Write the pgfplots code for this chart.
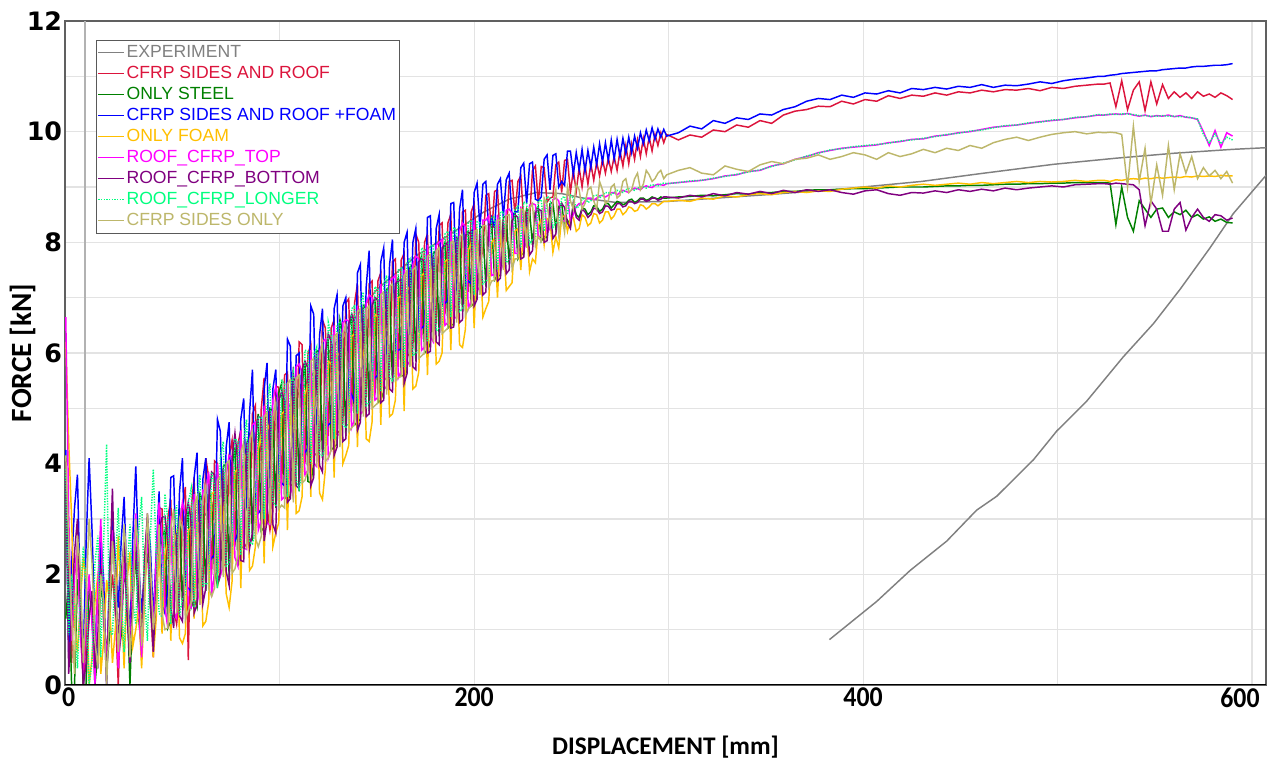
\documentclass[border=0pt]{standalone}
\usepackage{fontspec}
\setmainfont{Liberation Sans}
\newfontfamily\carlito{Carlito}
\newfontfamily\dejavu{DejaVu Sans}
\usepackage{xcolor}
\usepackage{graphicx}
\usepackage{pgfplots}
\usepackage{pgfplotstable}
\pgfplotsset{compat=1.18}

\definecolor{cexp}{RGB}{128,128,128}
\definecolor{cred}{RGB}{220,20,60}
\definecolor{cgrn}{RGB}{0,128,0}
\definecolor{cblu}{RGB}{0,0,255}
\definecolor{cyel}{RGB}{255,191,0}
\definecolor{cmag}{RGB}{255,0,255}
\definecolor{cpur}{RGB}{128,0,128}
\definecolor{clon}{RGB}{0,255,127}
\definecolor{ckha}{RGB}{189,183,107}

% simulated force-displacement curves
\pgfplotstableread{
x red grn blu yel mag pur lon kha
-10 4.00 1.20 4.25 6.20 6.65 4.10 3.90 4.15
-8.5 1.60 1.90 0.60 4.40 3.10 0.20 0.90 2.60
-7 0.40 0.00 2.20 3.00 0.80 1.30 2.00 1.20
-5.5 2.00 0.00 3.20 1.10 2.00 2.40 1.30 0.20
-4 2.40 1.90 3.80 0.60 2.60 3.00 0.30 2.70
-2.5 1.10 1.90 1.50 1.50 0.90 1.50 1.60 2.10
-1 0.00 0.00 0.50 2.30 0.20 0.00 2.50 0.40
0.5 0.90 0.00 2.60 1.90 1.20 0.40 1.80 1.60
2 1.80 1.90 4.10 0.00 2.00 1.20 0.00 3.00
3.5 1.20 1.30 2.80 0.50 1.10 1.70 0.40 2.20
5 0.30 0.00 1.00 1.50 0.00 0.30 2.20 0.80
6.5 1.90 0.60 0.30 2.00 1.80 0.90 2.70 0.30
8 2.60 1.80 2.70 0.20 3.00 2.10 0.50 2.00
9.5 1.10 1.40 1.90 0.80 1.30 1.50 2.60 1.50
11 0.60 0.30 0.00 1.90 0.40 0.00 4.35 0.00
12.5 1.40 0.90 2.10 1.50 1.60 1.90 1.00 1.30
14 2.00 2.80 3.00 0.40 2.80 3.55 0.90 2.60
15.5 1.30 2.10 2.30 1.00 1.90 1.40 2.20 1.90
17 0.00 0.50 1.40 2.70 0.30 0.80 3.20 0.60
18.5 1.80 0.90 2.60 1.60 1.20 2.00 1.60 1.40
20 2.50 2.10 3.40 0.30 2.20 2.60 0.60 2.90
21.5 1.20 1.60 1.80 1.90 1.50 1.30 2.00 2.20
23 0.70 0.00 0.90 2.40 0.60 0.40 2.90 0.50
24.5 2.10 1.50 2.70 0.70 2.00 1.70 1.50 1.30
26 2.70 2.40 3.95 1.00 3.10 2.50 1.10 3.00
27.5 1.60 1.20 2.20 1.40 1.40 1.60 2.80 2.40
29 1.00 0.60 1.30 0.30 0.50 0.90 3.40 0.70
30.5 2.30 1.80 2.00 1.50 1.90 2.20 1.60 1.60
32 3.00 2.50 3.00 2.70 2.70 3.10 0.80 3.10
33.5 1.50 1.40 2.50 2.00 1.50 1.60 2.70 2.20
35 0.50 0.90 1.20 0.50 1.00 0.60 3.90 1.00
36.5 2.20 1.90 2.40 1.20 2.30 1.80 2.40 1.50
38 3.20 2.30 3.50 2.60 3.30 2.80 1.30 2.90
39.5 3.18 2.68 1.48 0.93 2.68 3.03 1.23 1.28
41 1.40 2.80 1.30 2.35 1.40 3.05 3.45 1.00
42.5 3.03 1.03 1.73 2.68 1.03 2.58 2.98 1.03
44 3.35 1.15 3.75 0.80 3.05 1.40 1.10 2.85
45.5 1.38 1.28 3.78 2.53 1.28 1.03 2.83 3.18
47 1.10 2.60 1.80 2.75 1.20 2.75 3.25 1.30
48.5 1.60 3.20 3.50 0.85 2.90 1.25 1.25 3.00
50 3.20 1.40 4.10 0.75 3.30 1.15 1.55 2.80
51.5 3.58 2.78 1.78 0.93 3.08 3.03 1.63 1.18
53 0.45 3.15 1.75 2.80 1.45 3.30 3.30 1.35
54.5 3.20 1.40 1.70 2.85 1.40 2.95 3.55 1.50
56 3.75 1.55 3.75 1.20 3.45 1.30 1.40 3.25
57.5 1.80 1.40 4.20 2.95 1.80 1.45 3.35 3.40
59 1.95 3.45 1.65 2.90 1.45 3.30 3.80 1.45
60.5 1.82 3.32 3.72 1.07 3.52 1.47 1.77 3.32
62 4.10 1.70 4.10 1.15 3.50 1.75 1.85 3.60
63.5 3.75 3.55 2.15 1.50 3.85 3.30 1.80 1.75
65 2.00 3.30 2.30 3.45 1.60 3.85 3.85 1.60
66.5 4.05 2.05 2.35 3.50 2.05 3.80 3.60 1.75
68 4.00 1.80 4.80 1.75 4.00 1.85 1.75 3.70
69.5 2.48 1.98 4.58 3.23 1.98 2.03 4.13 3.78
71 2.15 3.95 2.45 3.30 2.15 3.90 4.40 1.95
72.5 2.20 4.00 4.30 1.65 3.80 2.05 2.15 4.00
74 4.15 1.95 4.75 1.40 4.15 1.80 2.20 4.05
75.5 4.42 3.92 2.52 1.87 4.12 4.07 2.47 2.02
77 2.50 4.30 2.60 3.85 2.30 4.55 4.45 2.10
78.5 4.35 2.15 2.75 3.90 2.15 4.00 4.40 2.35
80 4.60 2.50 4.80 1.75 4.60 2.25 2.35 4.20
81.5 2.48 2.48 5.18 3.93 2.48 2.23 4.43 4.38
83 2.55 4.35 3.15 4.20 2.45 4.40 4.80 2.45
84.5 2.92 4.52 4.92 2.07 4.42 2.47 2.57 4.42
86 4.90 2.60 5.70 2.15 4.70 2.75 2.55 4.60
87.5 5.05 4.55 3.15 2.50 4.75 4.40 2.80 2.65
89 3.10 4.90 3.10 4.25 2.80 4.85 4.85 2.50
90.5 4.98 2.78 3.18 4.53 2.98 4.83 4.83 2.68
92 5.55 2.85 5.35 2.20 5.05 2.60 3.00 4.85
93.5 3.22 3.12 5.82 4.57 2.92 2.97 5.07 4.92
95 2.80 5.00 3.20 4.75 2.90 4.95 5.45 2.90
96.5 3.15 4.95 5.35 2.50 5.15 2.90 3.30 4.85
98 5.40 3.20 5.70 2.75 5.40 2.75 3.25 5.10
99.5 5.38 5.28 3.68 2.93 5.08 5.13 3.23 3.18
101 3.55 5.45 3.65 4.90 3.35 5.30 5.50 3.25
102.5 5.60 3.40 3.60 4.95 3.40 5.15 5.45 3.20
104 5.65 3.35 6.25 2.80 5.45 3.30 3.40 5.45
105.5 3.62 3.42 6.12 4.97 3.62 3.37 5.37 5.52
107 3.60 5.50 4.00 5.25 3.40 5.75 5.65 3.30
108.5 4.05 5.55 5.95 3.10 5.75 3.60 3.70 5.55
110 6.20 3.50 6.00 3.15 5.80 3.55 3.55 5.60
111.5 6.15 5.45 4.15 3.40 5.65 5.70 3.90 3.65
113 4.00 5.80 4.20 5.25 3.80 5.85 6.05 3.70
114.5 5.98 3.68 4.28 5.43 3.88 5.73 6.03 3.88
116 6.15 3.65 6.85 3.40 6.05 3.60 4.00 5.85
117.5 4.20 4.00 6.70 5.55 4.00 3.75 5.95 5.90
119 4.15 6.05 4.25 5.70 3.95 6.00 6.10 3.95
120.5 4.22 6.02 6.32 3.47 6.02 3.97 4.17 5.92
122 6.60 4.10 6.80 3.35 6.20 3.85 4.15 6.20
123.5 6.45 6.05 4.55 3.90 6.25 6.00 4.30 4.05
125 4.50 6.20 4.70 5.85 4.10 6.35 6.55 4.10
126.5 6.45 4.25 4.75 5.80 4.25 6.20 6.30 4.25
128 6.60 4.30 6.80 3.75 6.50 4.15 4.45 6.30
129.5 4.55 4.35 7.05 6.00 4.55 4.30 6.50 6.35
131 4.60 6.60 4.90 5.95 4.50 6.35 6.55 4.30
132.5 4.75 6.35 6.85 4.00 6.55 4.40 4.70 6.35
134 6.90 4.50 7.00 4.15 6.60 4.45 4.65 6.50
135.5 6.98 6.48 5.08 4.33 6.58 6.53 4.73 4.58
137 4.95 6.65 5.25 6.30 4.65 6.70 6.80 4.65
138.5 6.90 4.70 5.10 6.35 4.80 6.55 6.85 4.70
140 7.25 4.75 7.45 4.30 6.85 4.60 4.90 6.75
141.5 5.10 4.80 7.60 6.35 4.90 4.75 6.85 6.80
143 5.15 6.85 5.25 6.40 4.95 6.80 7.10 4.85
144.5 5.20 6.80 7.20 4.45 6.90 4.85 5.05 6.80
146 7.25 4.95 7.85 4.40 7.05 4.90 5.10 6.85
147.5 7.30 6.90 5.50 4.75 7.00 6.85 5.15 5.00
149 5.25 6.95 5.55 6.70 5.15 7.00 7.20 5.05
150.5 7.30 5.10 5.60 6.65 5.20 6.95 7.15 5.10
152 7.45 5.15 7.65 4.70 7.25 5.10 5.30 7.05
153.5 5.50 5.30 7.90 6.75 5.40 5.15 7.25 7.10
155 5.55 7.15 5.75 6.80 5.35 7.10 7.40 5.25
156.5 5.70 7.20 7.60 4.85 7.30 5.35 5.55 7.20
158 7.65 5.45 8.05 4.90 7.35 5.30 5.50 7.25
159.5 7.70 7.20 6.00 5.15 7.40 7.25 5.65 5.50
161 5.75 7.35 6.05 7.00 5.55 7.30 7.50 5.55
162.5 7.68 5.58 6.08 7.03 5.68 7.33 7.53 5.58
164 7.80 5.60 8.00 4.95 7.50 5.45 5.75 7.40
165.5 5.98 5.68 8.18 7.13 5.78 5.63 7.63 7.48
167 5.95 7.55 6.25 7.20 5.85 7.50 7.70 5.75
168.5 6.10 7.60 8.00 5.35 7.60 5.75 5.95 7.50
170 8.15 5.85 8.25 5.40 7.75 5.70 6.00 7.55
171.5 8.00 7.60 6.40 5.65 7.70 7.65 6.05 5.90
173 6.25 7.75 6.45 7.40 6.05 7.70 7.90 5.95
174.5 8.00 6.00 6.50 7.45 6.10 7.65 7.85 6.00
176 8.15 6.05 8.45 5.60 7.95 6.00 6.20 7.75
177.5 6.38 6.18 8.48 7.43 6.28 6.03 7.93 7.78
179 6.40 7.80 6.70 7.55 6.20 7.75 7.95 6.20
180.5 6.55 7.85 8.25 5.80 7.95 6.20 6.40 7.85
182 8.30 6.30 8.50 5.85 8.00 6.15 6.45 7.90
183.5 8.35 7.85 6.85 6.00 8.05 7.90 6.50 6.35
185 6.70 8.00 6.90 7.65 6.50 7.95 8.15 6.40
186.5 8.35 6.45 6.95 7.70 6.55 8.00 8.20 6.45
188 8.50 6.50 8.70 6.05 8.20 6.45 6.65 8.00
189.5 6.82 6.52 8.72 7.77 6.62 6.47 8.27 8.02
191 6.85 8.05 7.05 7.80 6.65 8.10 8.20 6.55
192.5 6.90 8.10 8.60 6.15 8.20 6.55 6.75 8.10
194 8.55 6.75 8.95 6.10 8.35 6.60 6.80 8.15
195.5 8.58 8.18 7.18 6.43 8.28 8.13 6.93 6.68
197 7.10 8.20 7.30 7.85 6.80 8.15 8.35 6.80
198.5 8.55 6.85 7.25 8.00 6.95 8.20 8.40 6.85
200 8.70 6.90 8.90 6.45 8.40 6.85 7.05 8.20
201.5 7.90 7.02 9.07 7.97 7.12 6.97 8.37 8.22
203 8.00 8.25 8.25 7.90 7.20 8.15 8.35 7.05
204.5 7.80 8.30 9.05 6.65 8.40 7.05 7.25 8.30
206 8.85 7.20 9.10 6.80 8.40 7.10 7.30 8.30
207.5 8.88 8.28 8.23 6.93 8.48 8.33 7.33 7.18
209 8.15 8.35 8.45 8.00 7.40 8.30 8.45 7.30
210.5 8.92 7.32 8.27 8.07 7.42 8.27 8.47 7.32
212 8.95 7.40 9.05 7.00 8.50 7.30 7.50 8.40
213.5 8.00 7.40 9.15 8.15 7.50 7.35 8.55 8.40
215 8.30 8.45 8.45 8.10 7.60 8.40 8.55 7.50
216.5 8.08 8.48 9.13 7.13 8.58 7.43 7.63 8.48
218 9.10 7.60 9.25 7.20 8.60 7.50 7.70 8.50
219.5 9.12 8.42 8.47 7.27 8.52 8.37 7.77 7.52
221 8.50 8.55 8.55 8.20 7.80 8.50 8.60 7.70
222.5 9.10 7.70 8.55 8.25 7.80 8.45 8.65 7.70
224 9.20 7.80 9.35 7.50 8.65 7.70 7.90 8.60
225.5 8.38 7.78 9.43 8.33 7.88 7.73 8.73 8.58
227 8.60 8.60 8.70 8.25 8.00 8.55 8.70 7.90
228.5 8.42 8.57 9.42 7.47 8.67 7.77 7.97 8.62
230 9.30 7.95 9.45 7.70 8.70 7.85 8.05 8.70
231.5 9.38 8.58 8.78 7.63 8.68 8.53 8.08 7.93
233 8.70 8.65 8.75 8.30 8.10 8.60 8.75 8.10
234.5 9.37 8.02 8.82 8.42 8.12 8.57 8.77 8.02
236 9.35 8.10 9.50 7.95 8.75 8.00 8.20 8.80
237.5 8.73 8.08 9.58 8.43 8.18 8.03 8.83 8.68
239 8.80 8.70 8.95 8.40 8.25 8.65 8.80 8.30
240.5 8.82 8.72 9.57 7.82 8.77 8.07 8.27 8.72
242 9.40 8.25 9.60 8.10 8.80 8.15 8.35 8.95
243.5 9.45 8.65 9.00 7.90 8.75 8.60 8.35 8.15
245 8.90 8.70 9.10 8.45 8.40 8.70 8.80 8.50
246.5 9.48 8.28 9.03 8.48 8.38 8.63 8.83 8.18
248 9.50 8.40 9.65 8.20 8.80 8.35 8.50 9.00
249.5 8.90 8.30 9.65 8.45 8.40 8.25 8.85 8.75
251 9.30 8.70 9.22 8.45 8.50 8.70 8.80 8.60
252.5 8.92 8.50 9.62 8.20 8.65 8.45 8.62 9.05
254 9.35 8.45 9.30 8.25 8.70 8.40 8.65 8.95
255.5 9.00 8.62 9.68 8.50 8.68 8.60 8.78 8.60
257 9.40 8.60 9.28 8.45 8.75 8.55 8.80 8.70
258.5 9.05 8.50 9.66 8.30 8.80 8.45 8.72 8.95
260 9.42 8.55 9.35 8.35 8.80 8.50 8.75 9.00
261.5 9.12 8.66 9.72 8.52 8.76 8.62 8.84 8.75
263 9.45 8.65 9.40 8.50 8.80 8.60 8.85 8.60
264.5 9.20 8.56 9.78 8.35 8.84 8.52 8.80 9.10
266 9.50 8.60 9.45 8.40 8.85 8.55 8.85 8.95
267.5 9.25 8.70 9.80 8.55 8.82 8.66 8.90 8.70
269 9.52 8.70 9.48 8.55 8.85 8.65 8.90 8.75
270.5 9.28 8.62 9.85 8.42 8.90 8.58 8.86 9.00
272 9.55 8.68 9.50 8.48 8.90 8.60 8.90 9.05
273.5 9.30 8.74 9.86 8.60 8.86 8.70 8.94 8.80
275 9.65 8.72 9.55 8.60 8.90 8.70 8.92 8.85
276.5 9.38 8.68 9.88 8.50 8.94 8.64 8.90 9.10
278 9.75 8.70 9.60 8.55 8.92 8.66 8.95 9.15
279.5 9.42 8.76 9.90 8.64 8.90 8.74 8.97 8.90
281 9.78 8.78 9.62 8.62 8.95 8.74 8.97 8.95
282.5 9.50 8.72 9.92 8.56 8.98 8.70 8.94 9.15
284 9.85 8.75 9.70 8.58 8.97 8.72 8.98 9.25
285.5 9.55 8.80 9.98 8.68 8.95 8.78 9.00 8.95
287 9.88 8.80 9.78 8.66 9.00 8.78 9.00 9.05
288.5 9.60 8.76 10.03 8.60 9.02 8.74 8.98 9.30
290 9.90 8.78 9.83 8.64 9.00 8.76 9.02 9.22
291.5 9.65 8.82 10.07 8.70 8.99 8.80 9.04 9.10
293 9.95 8.80 9.86 8.70 9.03 8.80 9.03 9.15
294.5 9.75 8.78 10.05 8.66 9.05 8.76 9.02 9.25
296 9.98 8.82 9.90 8.70 9.04 8.78 9.05 9.30
297.5 9.80 8.80 10.04 8.74 9.03 8.82 9.07 9.15
299 9.95 8.80 9.92 8.74 9.06 8.82 9.06 9.22
305 9.85 8.82 9.98 8.76 9.08 8.80 9.08 9.30
311 9.94 8.83 10.10 8.74 9.10 8.85 9.11 9.35
317 9.90 8.85 10.05 8.80 9.12 8.82 9.12 9.25
323 10.03 8.84 10.20 8.78 9.15 8.88 9.16 9.22
329 10.00 8.86 10.15 8.84 9.20 8.84 9.19 9.38
335 10.12 8.88 10.25 8.82 9.22 8.90 9.23 9.32
341 10.08 8.87 10.22 8.86 9.28 8.87 9.27 9.28
347 10.20 8.90 10.32 8.88 9.30 8.92 9.31 9.40
353 10.15 8.90 10.30 8.86 9.38 8.88 9.37 9.46
359 10.30 8.92 10.40 8.90 9.42 8.94 9.43 9.42
365 10.37 8.92 10.45 8.92 9.50 8.90 9.49 9.50
371 10.40 8.94 10.55 8.90 9.55 8.95 9.56 9.52
377 10.46 8.95 10.60 8.93 9.62 8.92 9.61 9.58
383 10.45 8.95 10.58 8.92 9.66 8.95 9.67 9.50
389 10.55 8.96 10.66 8.96 9.70 8.90 9.69 9.55
395 10.50 8.97 10.62 8.98 9.72 8.87 9.73 9.62
401 10.58 8.97 10.70 9.00 9.74 8.93 9.75 9.58
407 10.55 8.98 10.68 8.98 9.76 8.95 9.77 9.50
413 10.65 8.99 10.74 9.02 9.80 8.88 9.79 9.62
419 10.60 9.00 10.70 9.00 9.82 8.85 9.83 9.55
425 10.66 9.00 10.78 9.03 9.86 8.90 9.85 9.60
431 10.64 9.00 10.76 9.05 9.87 8.89 9.88 9.68
437 10.70 9.01 10.80 9.03 9.92 8.93 9.91 9.62
443 10.66 9.02 10.77 9.05 9.94 8.90 9.95 9.70
449 10.72 9.02 10.82 9.07 9.98 8.95 9.97 9.66
455 10.70 9.03 10.80 9.05 10.00 8.92 10.01 9.75
461 10.75 9.03 10.85 9.08 10.04 8.96 10.03 9.70
467 10.72 9.04 10.80 9.06 10.08 8.93 10.07 9.80
473 10.76 9.05 10.84 9.08 10.10 8.98 10.11 9.86
479 10.75 9.05 10.83 9.10 10.12 8.95 10.12 9.90
485 10.78 9.06 10.86 9.08 10.15 8.98 10.16 9.84
491 10.74 9.06 10.90 9.10 10.18 9.00 10.17 9.90
497 10.80 9.07 10.87 9.09 10.20 9.02 10.21 9.95
503 10.78 9.07 10.92 9.10 10.22 9.00 10.22 9.98
509 10.82 9.08 10.95 9.12 10.25 9.04 10.26 10.00
515 10.84 9.08 10.97 9.10 10.27 9.05 10.27 9.96
521 10.86 9.08 11.00 9.12 10.30 9.06 10.31 9.99
524 10.86 9.08 11.00 9.12 10.30 9.06 10.30 9.98
527 10.88 9.07 11.02 9.10 10.31 9.05 10.32 9.99
530 10.45 8.32 11.03 9.13 10.32 9.07 10.31 9.98
533 10.92 9.00 11.05 9.12 10.31 9.06 10.32 9.95
536 10.40 8.45 11.06 9.14 10.33 9.05 10.32 9.00
539 10.75 8.20 11.07 9.15 10.30 9.04 10.31 10.10
542 10.90 8.75 11.08 9.14 10.28 8.95 10.29 9.10
545 10.38 8.60 11.09 9.16 10.30 8.30 10.29 9.70
548 10.90 8.45 11.10 9.15 10.27 8.75 10.28 8.70
551 10.50 8.60 11.10 9.17 10.29 8.60 10.28 9.40
554 10.85 8.62 11.12 9.16 10.28 8.20 10.29 8.85
557 10.60 8.45 11.13 9.17 10.30 8.20 10.28 9.75
560 10.72 8.55 11.14 9.18 10.27 8.60 10.28 8.95
563 10.62 8.50 11.15 9.17 10.29 8.72 10.27 9.60
566 10.70 8.58 11.15 9.19 10.26 8.22 10.27 9.25
569 10.60 8.45 11.17 9.18 10.25 8.45 10.25 9.55
572 10.72 8.50 11.18 9.20 10.22 8.60 10.23 9.15
575 10.64 8.42 11.18 9.19 10.00 8.45 9.95 9.35
578 10.68 8.46 11.19 9.20 9.75 8.38 9.80 9.20
581 10.62 8.38 11.20 9.19 10.02 8.50 9.96 9.30
584 10.70 8.42 11.20 9.21 9.72 8.48 9.78 9.15
587 10.65 8.36 11.21 9.20 9.98 8.40 9.90 9.28
590 10.58 8.35 11.23 9.20 9.92 8.44 9.85 9.07
}\sims

\newcommand{\xtl}[1]{\scalebox{0.9}[1]{#1}}

\begin{document}
\begin{tikzpicture}
\useasboundingbox (-48.75pt,-57.75pt) rectangle (914.25pt,513.75pt);
\begin{axis}[
  scale only axis, width=900.75pt, height=498pt,
  xmin=-10.4, xmax=607.2, ymin=0, ymax=12,
  xtick={0,200,400,600}, minor xtick={100,300,500},
  xticklabels={\makebox[0pt]{\xtl{0}\hspace{25pt}}, \xtl{200}, \xtl{400},
    \makebox[0pt]{\xtl{600}\hspace{18pt}}},
  ytick={0,2,...,12}, minor ytick={1,3,...,11},
  extra x ticks={0}, extra x tick labels={},
  extra x tick style={major grid style={draw=gray!60, line width=1.6pt}},
  grid=both, grid style={draw=gray!22, line width=0.8pt},
  major tick length=0pt, minor tick length=0pt,
  axis line style={draw=gray!75!black, line width=0.8pt},
  /pgf/number format/assume math mode=true,
  yticklabel style={font=\dejavu\bfseries\fontsize{19}{20}\selectfont, inner sep=2pt},
  xticklabel style={font=\carlito\bfseries\fontsize{21.5}{23}\selectfont,
    inner sep=0pt, yshift=-2pt},
  xlabel={DISPLACEMENT [mm]}, ylabel={FORCE [kN]},
  xlabel style={font=\carlito\bfseries\fontsize{19}{21}\selectfont,
    at={(axis description cs:0.5,-0.094)}, anchor=center},
  ylabel style={font=\carlito\bfseries\fontsize{22}{24}\selectfont,
    at={(axis description cs:-0.035,0.5)}, anchor=center},
  legend cell align=left,
  legend style={at={(axis description cs:0.0258,0.972)}, anchor=north west,
    draw=gray!70!black, line width=0.6pt, fill=white,
    font=\fontsize{13.2}{15}\selectfont, inner xsep=1pt, inner ysep=1.5pt,
    nodes={inner sep=1.25pt, text height=10.25pt, text depth=3pt}, row sep=0pt},
  legend image code/.code={\draw[#1, line width=0.9pt] (0pt,0pt) -- (19.5pt,0pt);},
  every axis plot/.append style={line width=1.1pt},
]
\addplot[cexp] coordinates {
  (40,2.2) (60,3.0) (80,3.9) (100,4.8) (125,6.0) (150,7.15) (170,7.75)
  (190,8.2) (205,8.55) (218,8.78) (232,8.9) (245,8.88) (256,8.8) (273,8.72)
  (300,8.74) (350,8.86) (388,8.96) (430,9.1) (460,9.24) (498,9.41)
  (530,9.52) (560,9.61) (590,9.68) (607.2,9.71)};
\addlegendentry{\textcolor{cexp}{EXPERIMENT}}
\addplot[cexp, forget plot] coordinates {
  (382.7,0.82) (407,1.51) (424.2,2.07) (443,2.60) (458.4,3.16) (468.7,3.41)
  (487.6,4.07) (499.6,4.59) (515,5.13) (533.8,5.93) (549.3,6.53) (563,7.15)
  (578.4,7.90) (590.4,8.52) (607.2,9.21)};
\addplot[cred] table[x=x, y=red] {\sims};
\addlegendentry{\textcolor{cred}{CFRP SIDES AND ROOF}}
\addplot[cgrn] table[x=x, y=grn] {\sims};
\addlegendentry{\textcolor{cgrn}{ONLY STEEL}}
\addplot[cblu] table[x=x, y=blu] {\sims};
\addlegendentry{\textcolor{cblu}{CFRP SIDES AND ROOF +FOAM}}
\addplot[cyel] table[x=x, y=yel] {\sims};
\addlegendentry{\textcolor{cyel}{ONLY FOAM}}
\addplot[cmag] table[x=x, y=mag] {\sims};
\addlegendentry{\textcolor{cmag}{ROOF\_CFRP\_TOP}}
\addplot[cpur] table[x=x, y=pur] {\sims};
\addlegendentry{\textcolor{cpur}{ROOF\_CFRP\_BOTTOM}}
\addplot[clon, dash pattern=on 1pt off 1pt] table[x=x, y=lon] {\sims};
\addlegendentry{\textcolor{clon}{ROOF\_CFRP\_LONGER}}
\addplot[ckha] table[x=x, y=kha] {\sims};
\addlegendentry{\textcolor{ckha}{CFRP SIDES ONLY}}
\draw[black, line width=1.8pt] (rel axis cs:0,0) -- (rel axis cs:1,0);
\end{axis}
\end{tikzpicture}
\end{document}
